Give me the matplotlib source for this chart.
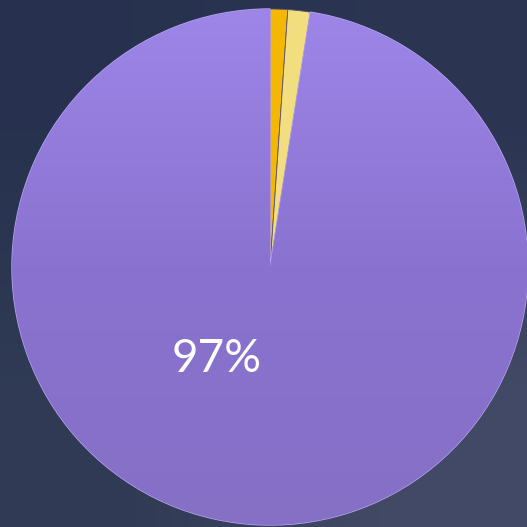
import numpy as np
import matplotlib
matplotlib.use("Agg")
import matplotlib.pyplot as plt
from matplotlib.colors import LinearSegmentedColormap

# slice values (percent), clockwise from 12 o'clock
labels = ['A', 'B', 'C']
values = [1.1, 1.4, 97.5]
colors = ['#f4b800', '#f2de7e', '#9680e0']
shown = ['', '', '97%']

XL = (-270 / 258, 257 / 258)
YL = (-260 / 258, 267 / 258)

fig = plt.figure(figsize=(5.27, 5.27), dpi=100)
ax = fig.add_axes([0, 0, 1, 1])

# background
bg = np.array([[[0.153, 0.196, 0.31], [0.17, 0.21, 0.325]],
               [[0.19, 0.23, 0.33], [0.26, 0.29, 0.40]]])
ax.imshow(bg, extent=(XL[0], XL[1], YL[0], YL[1]),
          interpolation='bilinear', zorder=0, aspect='auto')

wedges, _ = ax.pie(values, colors=colors, startangle=90, counterclock=False,
                   radius=1.0, frame=False,
                   wedgeprops=dict(linewidth=0.6, edgecolor='#5a5070'))
for w in wedges:
    w.set_zorder(2)

# vertical shading over the big slice
cmap = LinearSegmentedColormap.from_list('p', ['#9d86e8', '#8a72d0', '#8670c6'])
grad = np.linspace(0, 1, 256).reshape(-1, 1)
im = ax.imshow(grad, extent=(-1, 1, -1, 1), cmap=cmap, zorder=3, aspect='auto')
im.set_clip_path(wedges[2])
wedges[2].set_edgecolor('#b9a6f5')
wedges[2].set_linewidth(1.0)

# percentage label on the big slice
ang = np.deg2rad(240)
ax.text(0.41 * np.cos(ang), 0.41 * np.sin(ang), shown[2], color='white',
        fontsize=33, fontfamily='Lato', fontweight='normal',
        ha='center', va='center', zorder=5)

ax.set_xlim(*XL)
ax.set_ylim(*YL)
ax.set_aspect('equal')
ax.axis('off')

fig.savefig('out.png', dpi=100)
